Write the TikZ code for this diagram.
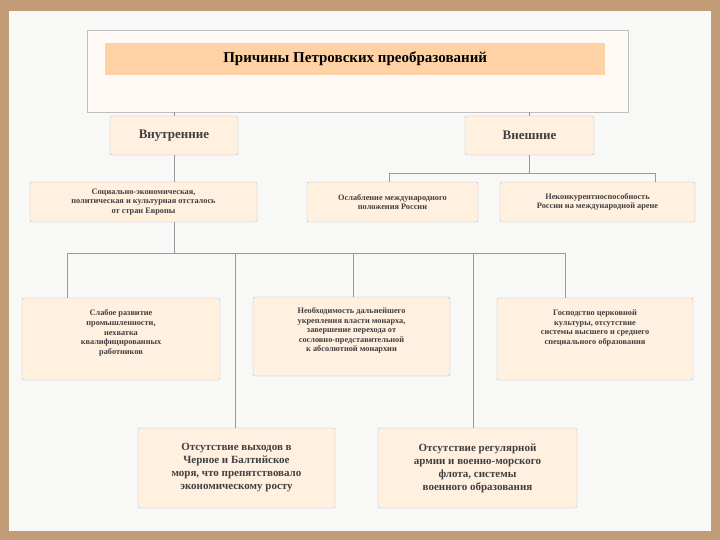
\documentclass[tikz,border=0pt]{standalone}
\usepackage{fontspec}
\setmainfont{Liberation Serif}
\begin{document}
\begin{tikzpicture}[x=1pt,y=-1pt,
 bx/.style={draw=black!25,fill=orange!12!white,rounded corners=2pt,align=center,inner sep=2pt,font=\bfseries\fontsize{8.3}{9.6}\selectfont,text=black!75},
 big/.style={bx,font=\bfseries\fontsize{11}{13}\selectfont},
 ln/.style={draw=black!40,line width=0.5pt}]
\fill[brown!60!orange!70!black!60] (0,0) rectangle (720,540);
\fill[orange!6!black!3!white] (9,11) rectangle (711,531);
\useasboundingbox (0,0) rectangle (720,540);
% title
\node[draw=black!25,fill=orange!4!white,minimum width=541pt,minimum height=82pt,anchor=north west] (t) at (87,30) {};
\node[fill=orange!35!white,minimum width=500pt,minimum height=32pt,anchor=north west,inner sep=0pt,font=\bfseries\fontsize{15}{17}\selectfont] (tt) at (105,43) {Причины Петровских преобразований};
\node[big,minimum width=128pt,minimum height=39pt,font=\bfseries\fontsize{13}{15}\selectfont] (vn) at (174,135.5) {Внутренние};
\node[big,minimum width=129pt,minimum height=39pt,font=\bfseries\fontsize{13}{15}\selectfont] (ve) at (529.5,135.5) {Внешние};
\node[bx,minimum width=227pt,minimum height=40pt] (s) at (143.5,202) {Социально-экономическая,\\политическая и культурная отсталось\\от стран Европы};
\node[bx,minimum width=171pt,minimum height=40pt] (o) at (392.5,202) {Ослабление международного\\положения России};
\node[bx,minimum width=195pt,minimum height=40pt] (n) at (597.5,202) {Неконкурентноспособность\\России на международной арене};
\node[bx,minimum width=198pt,minimum height=82pt] (a) at (121,339) {Слабое развитие\\промышленности,\\нехватка\\квалифицированных\\работников\\[4pt]};
\node[bx,minimum width=197pt,minimum height=79pt] (b) at (351.5,336.5) {Необходимость дальнейшего\\укрепления власти монарха,\\завершение перехода от\\сословно-представительной\\к абсолютной монархии\\[4pt]};
\node[bx,minimum width=196pt,minimum height=82pt] (c) at (595,339) {Господство церковной\\культуры, отсутствие\\системы высшего и среднего\\специального образования\\[14pt]};
\node[big,minimum width=197pt,minimum height=80pt] (d) at (236.5,468) {Отсутствие выходов в\\Черное и Балтийское\\моря, что препятствовало\\экономическому росту};
\node[big,minimum width=199pt,minimum height=80pt] (e) at (477.5,468) {Отсутствие регулярной\\армии  и военно-морского\\флота, системы\\военного образования};
% connectors
\coordinate (b1) at (389,173); \coordinate (b2) at (655,173);
\coordinate (c1) at (67,253); \coordinate (c2) at (565,253);
\draw[ln] (t.south -| vn) -- (vn.north);
\draw[ln] (t.south -| ve) -- (ve.north);
\draw[ln] (vn.south) -- (s.north -| vn);
\draw[ln] (s.south -| vn) -- (vn |- c1);
\draw[ln] (ve.south) -- (ve |- b1);
\draw[ln] (b1 |- o.north) -- (b1) -- (b2) -- (b2 |- n.north);
\draw[ln] (c1 |- a.north) -- (c1) -- (c2) -- (c2 |- c.north);
\coordinate (j1) at (235,253); \coordinate (j2) at (353,253); \coordinate (j3) at (473,253);
\draw[ln] (j1) -- (j1 |- d.north);
\draw[ln] (j2) -- (j2 |- b.north);
\draw[ln] (j3) -- (j3 |- e.north);
\end{tikzpicture}
\end{document}
